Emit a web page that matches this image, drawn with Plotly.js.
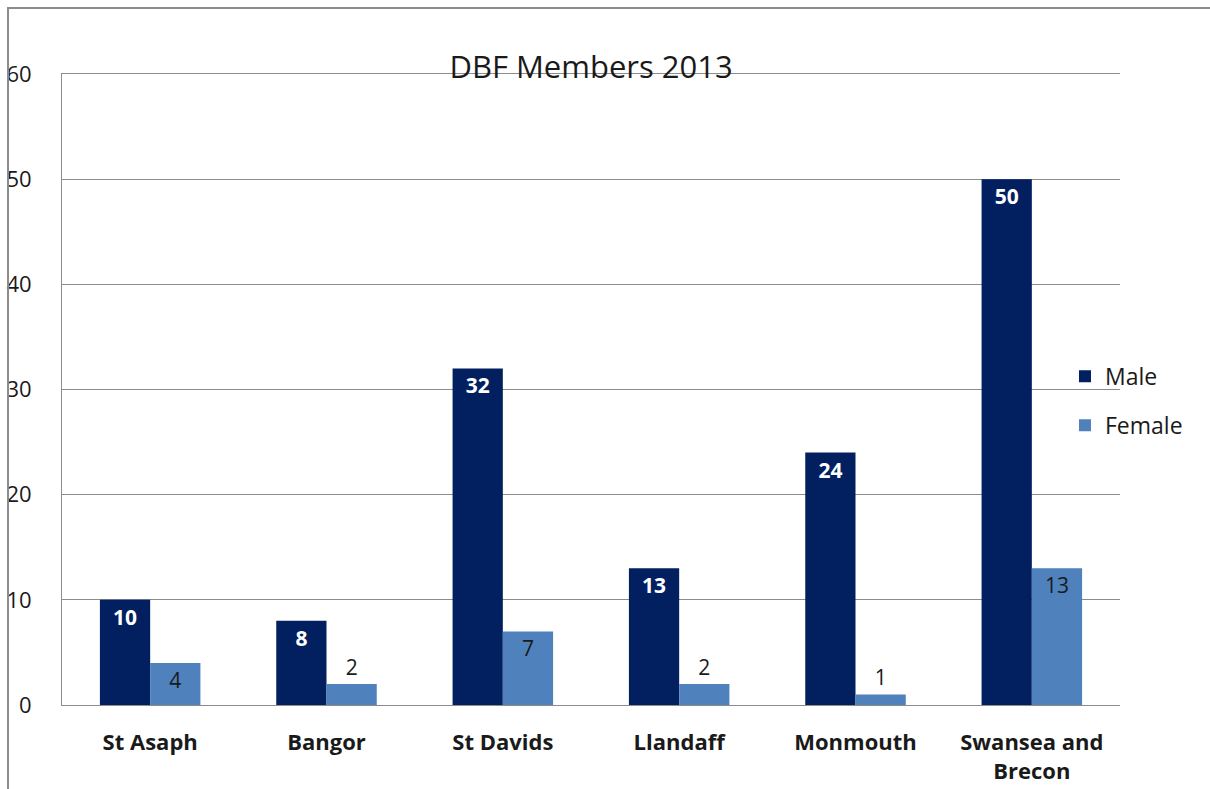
<!DOCTYPE html>
<html><head><meta charset="utf-8">
<script src="https://cdn.plot.ly/plotly-3.0.1.min.js"></script>
<style>
html,body{margin:0;padding:0;background:#fff;}
#wrap{position:absolute;left:0;top:0;width:1210px;height:789px;}
#frame{position:absolute;left:7px;top:7px;width:1203px;height:782px;border-left:2px solid #8c8c8c;border-top:2px solid #8c8c8c;box-sizing:border-box;pointer-events:none;}
#chart{position:absolute;left:0;top:0;width:1210px;height:789px;}
</style></head>
<body><div id="wrap"><div id="chart"></div><div id="frame"></div></div>
<script>
const categories = ["St Asaph", "Bangor", "St Davids", "Llandaff", "Monmouth", "Swansea and<br>Brecon"];
const maleValues = [10, 8, 32, 13, 24, 50];
const femaleValues = [4, 2, 7, 2, 1, 13];
const yTicks = [0, 10, 20, 30, 40, 50, 60];
const FONT = "'Open Sans', 'Noto Sans', sans-serif";

const male = {
  type: 'bar', name: 'Male', x: categories, y: maleValues,
  text: maleValues.map(String), textposition: 'inside', insidetextanchor: 'end',
  textangle: 0, constraintext: 'none', cliponaxis: false,
  textfont: {family: FONT, size: 21, color: '#ffffff', weight: 'bold'},
  marker: {color: '#02205f'}, legendgroup: 'a', hoverinfo: 'skip'
};
const female = {
  type: 'bar', name: 'Female', x: categories, y: femaleValues,
  text: femaleValues.map(String),
  textposition: femaleValues.map(v => v <= 2 ? 'outside' : 'inside'),
  insidetextanchor: 'end',
  textangle: 0, constraintext: 'none', cliponaxis: false,
  textfont: {family: FONT, size: 21, color: '#1a1a1a'},
  outsidetextfont: {family: FONT, size: 21, color: '#1a1a1a'},
  marker: {color: '#4f81bd'}, legendgroup: 'b', hoverinfo: 'skip'
};

const layout = {
  width: 1210, height: 789,
  margin: {l: 62, r: 90, t: 74, b: 84, pad: 0},
  paper_bgcolor: '#ffffff', plot_bgcolor: '#ffffff',
  font: {family: FONT, color: '#1a1a1a'},
  title: {text: 'DBF Members 2013', font: {family: FONT, size: 31, color: '#1a1a1a'},
          x: 0.4885, xanchor: 'center', yref: 'container', y: 1 - 67/789, yanchor: 'middle'},
  barmode: 'group', bargap: 0.43, bargroupgap: 0,
  showlegend: true,
  legend: {x: 0.948, xanchor: 'left', y: 0.482, yanchor: 'middle', traceorder: 'grouped',
           tracegroupgap: 16, font: {family: FONT, size: 23, color: '#1a1a1a'},
           bgcolor: 'rgba(0,0,0,0)', itemclick: false},
  xaxis: {type: 'category', showgrid: false, showline: true, mirror: true,
          linecolor: '#8c8c8c', linewidth: 1, zeroline: false,
          ticks: '', ticklabelstandoff: 18,
          tickfont: {family: FONT, size: 22, color: '#1a1a1a', weight: 'bold'}},
  yaxis: {range: [0, 60], tickvals: yTicks, ticktext: yTicks.map(String),
          showgrid: true, gridcolor: '#8c8c8c', gridwidth: 1,
          showline: true, linecolor: '#8c8c8c', linewidth: 1,
          zeroline: true, zerolinecolor: '#8c8c8c', zerolinewidth: 1,
          ticks: '', ticklabelstandoff: 25,
          tickfont: {family: FONT, size: 22, color: '#1a1a1a'}}
};
Plotly.newPlot('chart', [male, female], layout, {displayModeBar: false, staticPlot: true});
</script></body></html>
